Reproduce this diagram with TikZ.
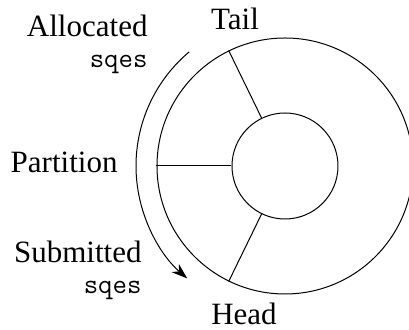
\documentclass[tikz,border=0pt]{standalone}
\usepackage{fontspec}
\setmainfont{Liberation Serif}
\usetikzlibrary{arrows.meta,calc}
\tikzstyle{ring} = [circle, draw=black, inner sep=0pt, minimum size=256pt*0.5]
\tikzstyle{hub} = [circle, draw=black, inner sep=0pt, minimum size=106pt*0.5]
\tikzstyle{label} = [inner sep=0pt, font=\fontsize{15.5}{18}\selectfont]
\tikzstyle{code} = [inner sep=0pt, font=\fontsize{14}{16}\ttfamily]
\tikzstyle{arrow} = [line width=0.5pt, -{Stealth[length=8pt, width=5.5pt]}]

\begin{document}
\begin{tikzpicture}[x=0.5pt, y=-0.5pt, line width=0.5pt]
  \useasboundingbox (0,0) rectangle (409,330);
  % the queue ring
  \node (ring) [ring] at (285,166) {};
  \node (hub) [hub] at (285,166) {};
  \draw (hub.116) -- (ring.116);
  \draw (hub.180) -- (ring.180);
  \draw (hub.244) -- (ring.244);

  \node (tail) [label, anchor=base] at (235,30) {Tail};
  \node (head) [label, anchor=base] at (244,325) {Head};
  \node (alloc) [label, anchor=base east] at (148,37) {Allocated};
  \node (allocsq) [code, anchor=base east] at (148,68) {sqes};
  \node (part) [label, anchor=base east] at (118,173) {Partition};
  \node (subm) [label, anchor=base east] at (142,263) {Submitted};
  \node (submsq) [code, anchor=base east] at (142,294) {sqes};

  % direction of the ring
  \coordinate (from) at ($(ring.center)+(130:74.5pt)$);
  \draw [arrow] (from) arc[start angle=130, end angle=229, radius=74.5pt];
\end{tikzpicture}
\end{document}
